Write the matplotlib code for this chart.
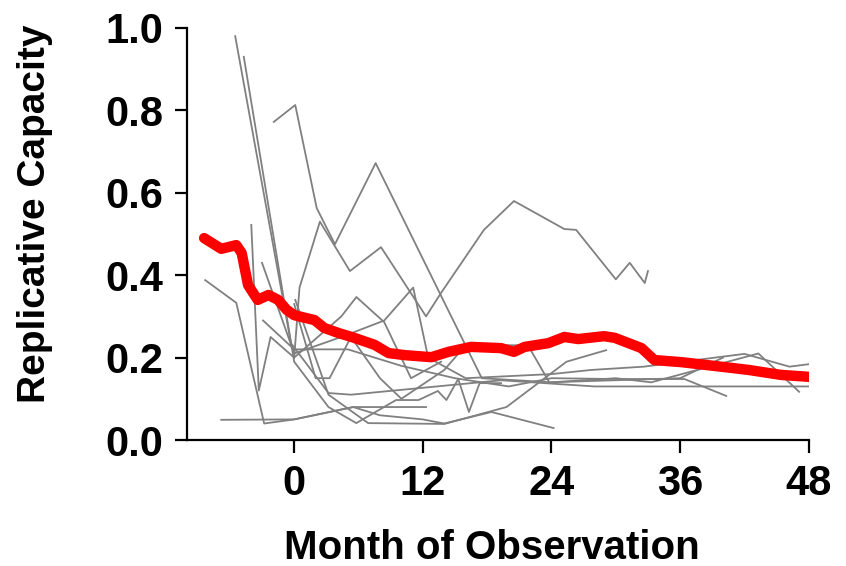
import numpy as np
import matplotlib
matplotlib.use("Agg")
import matplotlib.pyplot as plt

plt.rcParams['font.family'] = ['Liberation Sans', 'DejaVu Sans']
plt.rcParams['font.weight'] = 'bold'

# mean replicative capacity (red trace)
mean_month = [-8.4, -6.8, -5.4, -4.9, -4.3, -3.4, -2.4, -1.5, -0.7, 0, 1.9, 2.8, 4.1, 5.6, 7.5,
              8.8, 10.3, 12.8, 14.4, 16.5, 19.3, 20.5, 21.5, 23.7, 25.2, 26.5, 28.9, 29.9,
              32.4, 33.6, 36.1, 40.8, 42.4, 45.4, 48.2]
mean_rc = [0.490, 0.464, 0.473, 0.454, 0.376, 0.340, 0.352, 0.340, 0.316, 0.303, 0.291, 0.272,
           0.260, 0.248, 0.231, 0.211, 0.206, 0.201, 0.214, 0.226, 0.223, 0.214, 0.226, 0.235,
           0.250, 0.245, 0.252, 0.248, 0.223, 0.194, 0.189, 0.175, 0.170, 0.158, 0.153]

# individual patients (gray traces): month, replicative capacity
p1_m = [-5.5, -0.3, 3.2, 5.3, 19.3, 28, 48]
p1_v = [0.98, 0.235, 0.114, 0.11, 0.145, 0.13, 0.13]
p2_m = [-4.7, 0, 3.2, 5.8, 9.5, 11.6, 13.4, 14.2, 15.3, 16.3, 17.3, 19.3]
p2_v = [0.93, 0.19, 0.08, 0.041, 0.097, 0.097, 0.119, 0.097, 0.148, 0.068, 0.138, 0.138]
p3_m = [-1.9, 0.1, 2.1, 3.8, 7.6, 13.7, 17.5, 24, 30, 33.3, 43.3, 47.1]
p3_v = [0.772, 0.813, 0.563, 0.475, 0.672, 0.35, 0.15, 0.14, 0.15, 0.14, 0.21, 0.117]
p4_m = [0, 0.5, 2.4, 5.2, 8.1, 12.3, 13.7, 17.7, 20.5, 25.2, 26.3, 30.0, 31.3, 32.7, 33.0]
p4_v = [0.2, 0.37, 0.53, 0.41, 0.468, 0.30, 0.357, 0.51, 0.58, 0.512, 0.51, 0.39, 0.43, 0.381, 0.41]
p5_m = [-8.3, -5.4, -2.8, 0, 5.5, 8, 12, 14, 18.4, 24.2]
p5_v = [0.388, 0.333, 0.04, 0.05, 0.08, 0.06, 0.05, 0.04, 0.068, 0.029]
p6_m = [-4.0, -3.3, -2.2, 0, 4.4, 5.8, 8.4, 10.9, 13.7]
p6_v = [0.522, 0.12, 0.25, 0.2, 0.30, 0.347, 0.286, 0.15, 0.19]
p7_m = [-3.0, 0, 4.4, 8.4, 11.1, 12.5, 16, 24, 27.7, 32.6, 42, 46.2, 48]
p7_v = [0.43, 0.21, 0.25, 0.29, 0.37, 0.20, 0.15, 0.16, 0.17, 0.178, 0.209, 0.178, 0.184]
p8_m = [-2.9, 0, 5, 10, 15, 20, 24, 30, 36.4, 40.3]
p8_v = [0.29, 0.22, 0.22, 0.18, 0.15, 0.13, 0.15, 0.148, 0.148, 0.107]
p9_m = [-6.8, 0, 5.5, 10, 12.3]
p9_v = [0.049, 0.05, 0.08, 0.08, 0.08]
p10_m = [0.1, 3.2, 6.9, 14, 19.8, 25.4, 29.1]
p10_v = [0.34, 0.11, 0.041, 0.039, 0.08, 0.19, 0.218]
p11_m = [0, 2, 3.3, 5.3, 8, 10, 14, 16, 21.8, 23.8, 36, 40]
p11_v = [0.33, 0.15, 0.15, 0.25, 0.15, 0.10, 0.17, 0.23, 0.23, 0.14, 0.15, 0.20]

patients = [(p1_m, p1_v), (p2_m, p2_v), (p3_m, p3_v), (p4_m, p4_v), (p5_m, p5_v),
            (p6_m, p6_v), (p7_m, p7_v), (p8_m, p8_v), (p9_m, p9_v), (p10_m, p10_v),
            (p11_m, p11_v)]

x_ticks = [0, 12, 24, 36, 48]
y_ticks = [0.0, 0.2, 0.4, 0.6, 0.8, 1.0]

fig = plt.figure(figsize=(8.46, 5.66), dpi=100)
ax = fig.add_axes([0.221, 0.2226, 0.735, 0.728])

for m, v in patients:
    ax.plot(m, v, color='#808080', lw=1.3, zorder=2)
ax.plot(mean_month, mean_rc, color='#ff0000', lw=7.5, solid_capstyle='round',
        solid_joinstyle='round', zorder=3)

ax.set_xlim(-10, 48)
ax.set_ylim(0, 1.0)
ax.set_xticks(x_ticks)
ax.set_yticks(y_ticks)
ax.set_yticklabels(['%.1f' % t for t in y_ticks])
ax.spines['top'].set_visible(False)
ax.spines['right'].set_visible(False)
for s in ['left', 'bottom']:
    ax.spines[s].set_linewidth(1.6)
ax.tick_params(direction='out', length=9, width=1.6, labelsize=30, pad=8)
for lab in ax.get_xticklabels() + ax.get_yticklabels():
    lab.set_fontweight('bold')

ax.set_xlabel('Month of Observation', fontsize=29, fontweight='bold')
ax.xaxis.set_label_coords(0.49, -0.215)
ax.set_ylabel('Replicative Capacity', fontsize=28, fontweight='bold')
ax.yaxis.set_label_coords(-0.215, 0.55)

fig.savefig('out.png', dpi=100)
